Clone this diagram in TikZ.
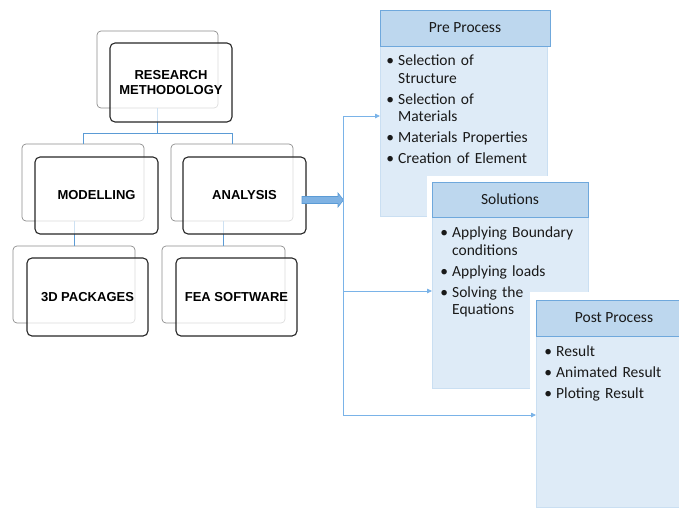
\documentclass[tikz,border=0pt]{standalone}
\usepackage{fontspec}
\setmainfont{Liberation Sans}
\newfontfamily\carlito{Carlito}
\usetikzlibrary{arrows.meta}
\definecolor{hdrfill}{HTML}{BDD7EE}
\definecolor{hdrdraw}{HTML}{6FA8DC}
\definecolor{bodyfill}{HTML}{DEEBF7}
\definecolor{bodydraw}{HTML}{CADFF2}
\definecolor{treeblue}{HTML}{5B9BD5}
\definecolor{connblue}{HTML}{7AB3E8}
\definecolor{arrfill}{HTML}{7FB2E3}
\definecolor{arrdraw}{HTML}{5B9BD5}
\newcommand\bitem[1]{\par\noindent\hangindent=16pt\hangafter=1\makebox[16pt][c]{\textbullet}#1\par\vspace{3.5pt}}
\begin{document}
\begin{tikzpicture}[x=1pt,y=-1pt,
  backbox/.style={draw=black!45, line width=0.7pt, rounded corners=4pt, inner sep=0pt, outer sep=0pt},
  frontbox/.style={draw=black!85, line width=1.1pt, rounded corners=5pt, fill=white, fill opacity=0.7, text opacity=1, inner sep=0pt, outer sep=0pt, align=center, font=\bfseries\fontsize{13}{14.5}\selectfont},
  tree/.style={draw=treeblue, line width=1pt},
  hdr/.style={draw=hdrdraw, fill=hdrfill, line width=1pt, inner sep=0pt, outer sep=0pt, font=\carlito\fontsize{15.5}{17.5}\selectfont, text=black!90},
  body/.style={draw=bodydraw, fill=bodyfill, line width=0.6pt, inner sep=0pt, outer sep=0pt},
  btext/.style={anchor=north west, inner sep=0pt, text width=180pt, font=\carlito\fontsize{15.5}{17.5}\selectfont, text=black!90},
  conn/.style={draw=connblue, line width=0.8pt},
  tip/.style={-{Triangle[length=5pt,width=4.5pt]}},
  blockarrow/.style={draw=arrdraw, fill=arrfill, line width=0.6pt}
]
\useasboundingbox (0,0) rectangle (679,507);
\clip (0,0) rectangle (679,507);

% ---------- left tree: back boxes ----------
\node[backbox, minimum width=121pt, minimum height=77pt] (rb) at (157.5,69.5) {};
\node[backbox, minimum width=122pt, minimum height=77pt] (mb) at (83,182.5) {};
\node[backbox, minimum width=122pt, minimum height=77pt] (ab) at (232,182.5) {};
\node[backbox, minimum width=122pt, minimum height=77pt] (db) at (74,284.5) {};
\node[backbox, minimum width=123pt, minimum height=77pt] (fb) at (223.5,284.5) {};

% tree connectors
\draw[tree] (rb.south) -- ++(0,25) -| (mb.north);
\draw[tree] (rb.south) ++(0,25) -| (ab.north);
\draw[tree] (db.north) -- (db.north |- mb.south);
\draw[tree] (fb.north) -- (fb.north |- ab.south);

% front boxes
\node[frontbox, minimum width=122pt, minimum height=79pt] (rf) at (171,82.5) {RESEARCH\\METHODOLOGY};
\node[frontbox, minimum width=123pt, minimum height=77pt] (mf) at (96.5,195.5) {MODELLING};
\node[frontbox, minimum width=123pt, minimum height=77pt] (af) at (244.5,195.5) {ANALYSIS};
\node[frontbox, minimum width=121pt, minimum height=78pt] (df) at (87.5,297) {3D PACKAGES};
\node[frontbox, minimum width=121pt, minimum height=78pt] (ff) at (236.5,297) {FEA SOFTWARE};

% block arrow
\draw[blockarrow] (302,196.5) -- (338,196.5) -- (338,193) -- (343.5,200) -- (338,207) -- (338,203.5) -- (302,203.5) -- cycle;

% ---------- right side ----------
% Pre Process
\node[body, minimum width=167pt, minimum height=170pt] (pre) at (463.5,131) {};
\node[hdr, minimum width=170pt, minimum height=36pt] (preh) at (465,28) {Pre Process};
\node[btext] (pret) at (382,48) {%
\bitem{Selection of\newline Structure}%
\bitem{Selection of\newline Materials}%
\bitem{Materials Properties}%
\bitem{Creation of Element}};

% Solutions
\fill[white] (427,176) rectangle (593,393);
\node[body, minimum width=156pt, minimum height=171pt] (sol) at (510,302.5) {};
\node[hdr, minimum width=156pt, minimum height=35pt] (solh) at (510,199.5) {Solutions};
\node[btext] (solt) at (436,220) {%
\bitem{Applying Boundary\newline conditions}%
\bitem{Applying loads}%
\bitem{Solving the\newline Equations}};

% Post Process
\fill[white] (530,292) rectangle (700,512);
\node[body, minimum width=156pt, minimum height=171pt] (post) at (614,421.5) {};
\node[hdr, minimum width=156pt, minimum height=36pt] (posth) at (614,318) {Post Process};
\node[btext] (postt) at (540,339) {%
\bitem{Result}%
\bitem{Animated Result}%
\bitem{Ploting Result}};

% connectors
\coordinate (b1) at (343,116);
\coordinate (b2) at (343,291);
\coordinate (b3) at (343,415);
\draw[conn] (b1) -- (b3);
\draw[conn,tip] (b1) -- (b1 -| pre.west);
\draw[conn,tip] (b2) -- (b2 -| sol.west);
\draw[conn,tip] (b3) -- (b3 -| post.west);
\end{tikzpicture}
\end{document}
